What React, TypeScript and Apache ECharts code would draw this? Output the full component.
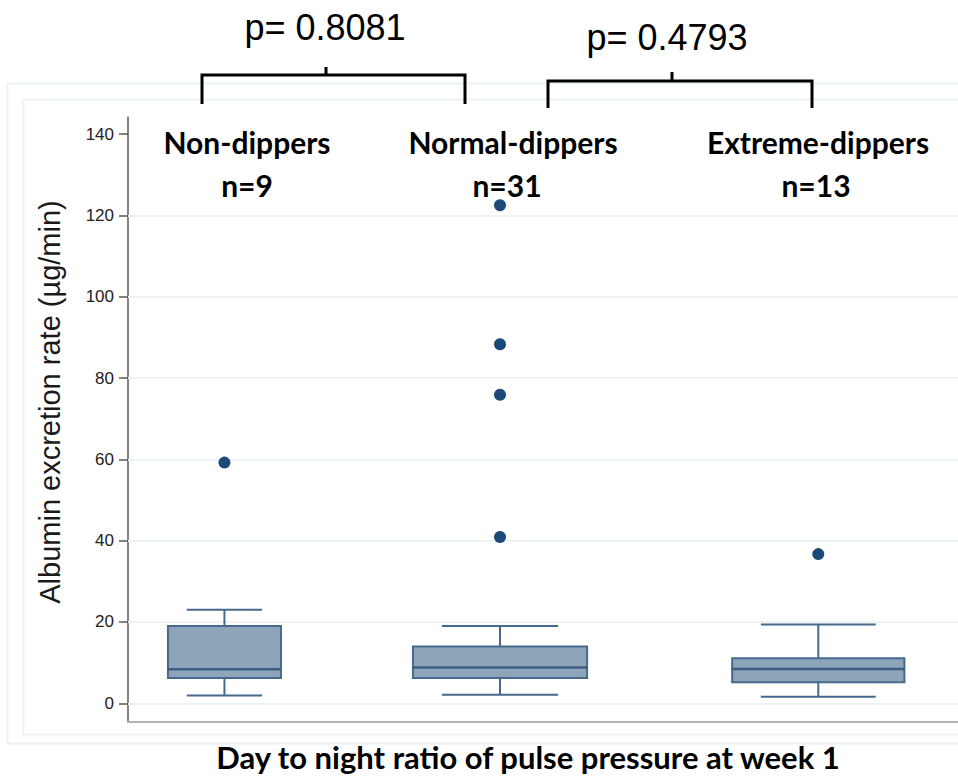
import React, { useEffect, useRef } from "react";
import * as echarts from "echarts";

// ---- data ----
const groups = ["Non-dippers", "Normal-dippers", "Extreme-dippers"];
const groupN = ["n=9", "n=31", "n=13"];
const groupPos = [1, 2, 3.155];
// [lower whisker, Q1, median, Q3, upper whisker]
const boxStats = [
  [1.9, 6.2, 8.4, 19.0, 23.0],
  [2.1, 6.2, 8.8, 14.0, 19.0],
  [1.6, 5.2, 8.45, 11.1, 19.4],
];
const outliers: number[][] = [
  [59.2],
  [122.5, 88.3, 75.9, 40.9],
  [36.7],
];
const yTicks = [0, 20, 40, 60, 80, 100, 120, 140];
const gridValues = [0, 20, 40, 60, 80, 100, 120];
const pValues = ["p= 0.8081", "p= 0.4793"];
const yTitle = "Albumin excretion rate (µg/min)";
const xTitle = "Day to night ratio of pulse pressure at week 1";

// ---- style ----
const boxWidths = [0.41, 0.632, 0.625];
const BOX_FILL = "#8ea4b9";
const BOX_STROKE = "#46698e";
const MEDIAN = "#3a5e85";
const DOT = "#1c4a78";

export default function App() {
  const ref = useRef<HTMLDivElement>(null);
  useEffect(() => {
    if (!ref.current) return;
    const chart = echarts.init(ref.current, null, { renderer: "svg" });

    const boxData = boxStats.map((s, i) => [groupPos[i], ...s]);
    const outlierData: number[][] = [];
    outliers.forEach((arr, i) => arr.forEach((v) => outlierData.push([groupPos[i], v])));

    const labelFont = "Lato, 'Noto Sans', sans-serif";
    const graphics: any[] = [
      // faint frames
      { type: "rect", shape: { x: 7.5, y: 83.5, width: 1000, height: 660 }, style: { fill: "none", stroke: "#ecf1f3", lineWidth: 2 }, silent: true, z: -10 },
      { type: "rect", shape: { x: 23.5, y: 99.5, width: 1000, height: 635 }, style: { fill: "none", stroke: "#eef3f4", lineWidth: 2 }, silent: true, z: -10 },
      // brackets
      { type: "polyline", shape: { points: [[202, 104], [202, 75], [465, 75], [465, 104]] }, style: { stroke: "#000", lineWidth: 3, fill: "none" }, z: 100 },
      { type: "line", shape: { x1: 326, y1: 75, x2: 326, y2: 67 }, style: { stroke: "#000", lineWidth: 3 }, z: 100 },
      { type: "polyline", shape: { points: [[548, 108], [548, 81], [812, 81], [812, 108]] }, style: { stroke: "#000", lineWidth: 3, fill: "none" }, z: 100 },
      { type: "line", shape: { x1: 672, y1: 81, x2: 672, y2: 72 }, style: { stroke: "#000", lineWidth: 3 }, z: 100 },
      // p values
      { type: "text", x: 325, y: 27, z: 100, style: { text: pValues[0], font: "36px 'Liberation Sans', Arial, sans-serif", fill: "#000", align: "center", verticalAlign: "middle" } },
      { type: "text", x: 667, y: 37, z: 100, style: { text: pValues[1], font: "36px 'Liberation Sans', Arial, sans-serif", fill: "#000", align: "center", verticalAlign: "middle" } },
      // axis titles
      { type: "text", x: 50, y: 402, z: 100, rotation: Math.PI / 2, style: { text: yTitle, font: "29px 'Liberation Sans', Arial, sans-serif", fill: "#1a1a1a", align: "center", verticalAlign: "middle" } },
      { type: "text", x: 528, y: 757, z: 100, style: { text: xTitle, font: `bold 31px ${labelFont}`, fill: "#000", align: "center", verticalAlign: "middle" } },
    ];
    const catX = [247, 513, 818];
    const nX = [247, 507, 816];
    groups.forEach((g, i) => {
      graphics.push({ type: "text", x: catX[i], y: 142, z: 100, style: { text: g, font: `bold 30px ${labelFont}`, fill: "#000", align: "center", verticalAlign: "middle" } });
      graphics.push({ type: "text", x: nX[i], y: 185, z: 100, style: { text: groupN[i], font: `bold 30px ${labelFont}`, fill: "#000", align: "center", verticalAlign: "middle" } });
    });

    chart.setOption({
      animation: false,
      backgroundColor: "#fff",
      grid: { left: 128, right: 0, top: 117, bottom: 56, containLabel: false },
      xAxis: {
        type: "value",
        min: 0.65,
        max: 3.662,
        axisLine: { show: true, onZero: false, lineStyle: { color: "#b3b3b3", width: 2 } },
        axisTick: { show: false },
        axisLabel: { show: false },
        splitLine: { show: false },
      },
      yAxis: {
        type: "value",
        min: -4.6,
        max: 144.2,
        axisLine: { show: true, onZero: false, lineStyle: { color: "#5a5a5a", width: 1.5 } },
        axisTick: { show: true, length: 9, customValues: yTicks, lineStyle: { color: "#5a5a5a", width: 1.5 } },
        axisLabel: { customValues: yTicks, margin: 14, color: "#222", fontSize: 17, fontFamily: "'Liberation Sans', Arial, sans-serif" },
        splitLine: { show: false },
      },
      graphic: graphics,
      series: [
        {
          type: "custom",
          data: boxData,
          encode: { x: 0, y: [1, 2, 3, 4, 5] },
          z: 3,
          renderItem: (params: any, api: any) => {
            const i = params.dataIndex;
            const x = api.value(0);
            const pMin = api.coord([x, api.value(1)]);
            const pQ1 = api.coord([x, api.value(2)]);
            const pMed = api.coord([x, api.value(3)]);
            const pQ3 = api.coord([x, api.value(4)]);
            const pMax = api.coord([x, api.value(5)]);
            const w = api.size([boxWidths[i], 0])[0];
            const hw = w / 2;
            const cw = w / 3;
            const cx = pMed[0];
            const wStyle = { stroke: BOX_STROKE, lineWidth: 2 };
            return {
              type: "group",
              children: [
                { type: "line", shape: { x1: cx, y1: pMax[1], x2: cx, y2: pQ3[1] }, style: wStyle },
                { type: "line", shape: { x1: cx, y1: pQ1[1], x2: cx, y2: pMin[1] }, style: wStyle },
                { type: "line", shape: { x1: cx - cw, y1: pMax[1], x2: cx + cw, y2: pMax[1] }, style: wStyle },
                { type: "line", shape: { x1: cx - cw, y1: pMin[1], x2: cx + cw, y2: pMin[1] }, style: wStyle },
                { type: "rect", shape: { x: cx - hw, y: pQ3[1], width: w, height: pQ1[1] - pQ3[1] }, style: { fill: BOX_FILL, stroke: BOX_STROKE, lineWidth: 2 } },
                { type: "line", shape: { x1: cx - hw, y1: pMed[1], x2: cx + hw, y2: pMed[1] }, style: { stroke: MEDIAN, lineWidth: 2.5 } },
              ],
            };
          },
        },
        {
          type: "scatter",
          data: outlierData,
          symbol: "circle",
          symbolSize: 12,
          itemStyle: { color: DOT, opacity: 1 },
          z: 4,
          markLine: {
            silent: true,
            symbol: "none",
            label: { show: false },
            lineStyle: { color: "#edf2f3", width: 2, type: "solid" },
            data: gridValues.map((v) => ({ yAxis: v })),
            z: 1,
          },
        },
      ],
    });
    return () => chart.dispose();
  }, []);
  return (
    <div
      ref={ref}
      style={{ position: "absolute", left: 0, top: 0, width: 958, height: 778, background: "#fff" }}
    />
  );
}
